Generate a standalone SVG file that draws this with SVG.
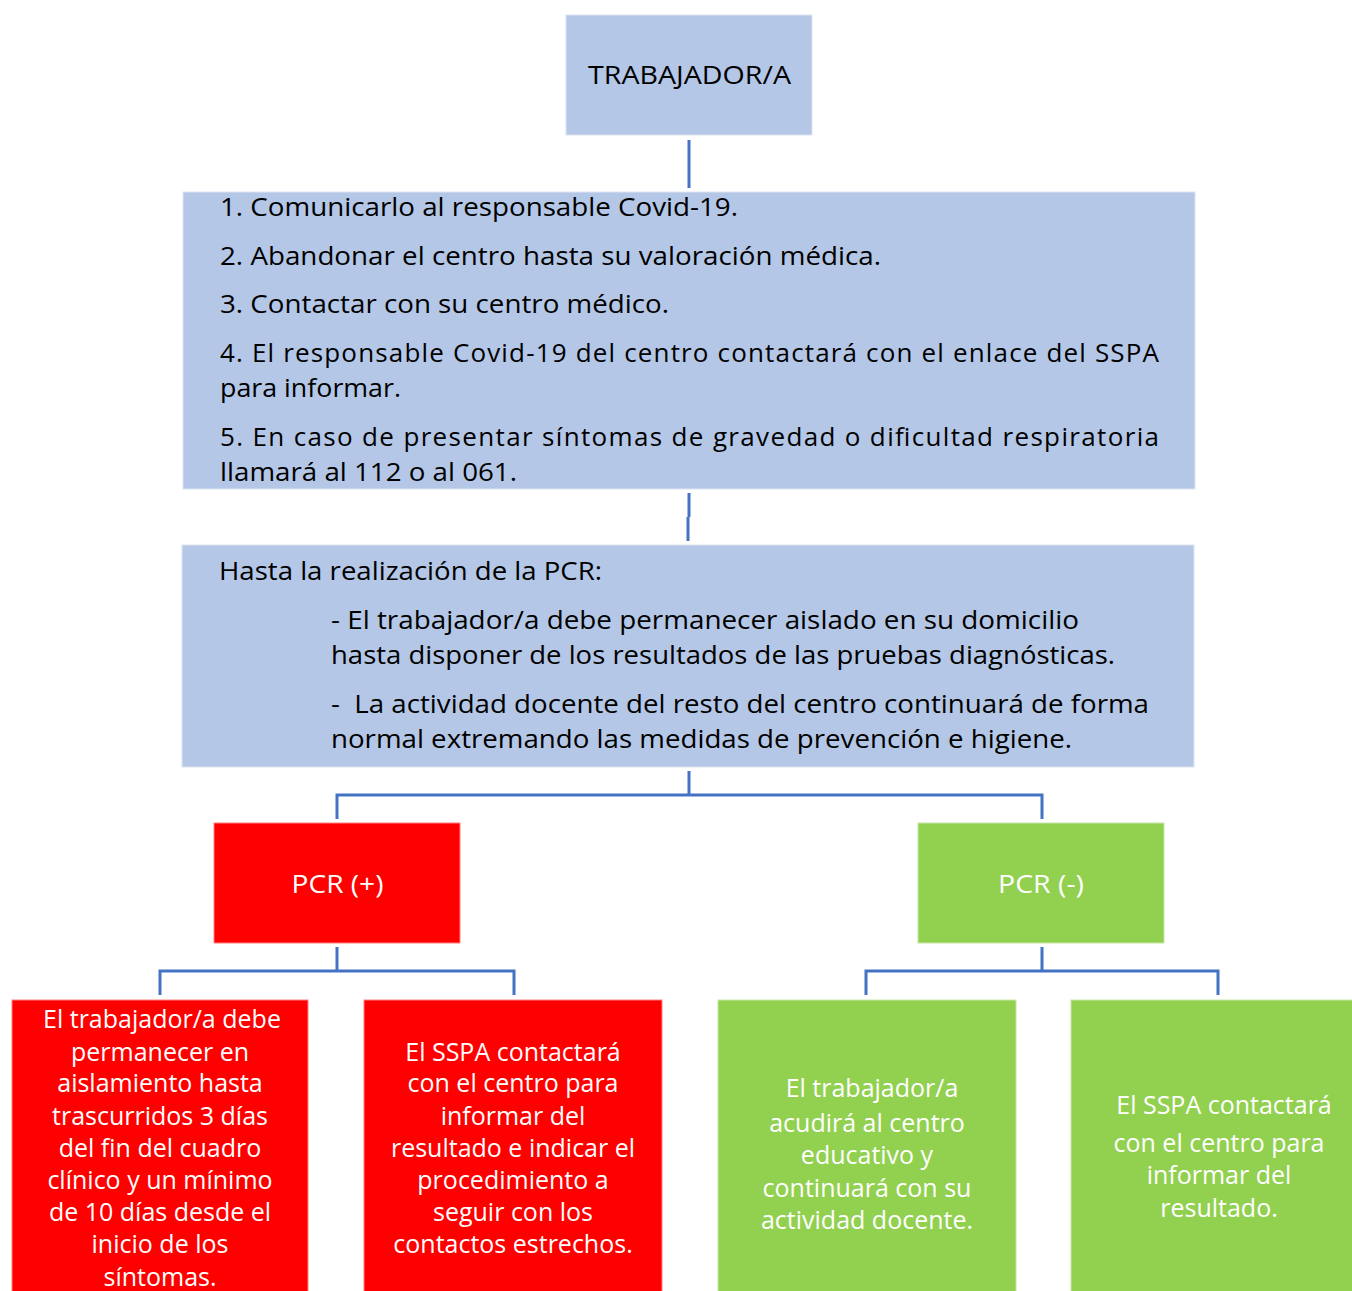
<svg xmlns="http://www.w3.org/2000/svg" width="1352" height="1291" viewBox="0 0 1352 1291">
<style>
.blue{fill:#B4C7E7;stroke:#DCE4F2;stroke-width:1}
.red{fill:#FF0000;stroke:#FF8080;stroke-width:1}
.green{fill:#92D050;stroke:#C5E6A6;stroke-width:1}
text{font-family:"Open Sans","Liberation Sans",sans-serif;font-size:26px}
.sm{font-size:25px}
.dk{fill:#000}
.wt{fill:#fff;text-anchor:middle}
.c{text-anchor:middle}
.conn{fill:none;stroke:#4472C4;stroke-width:3}
</style>
<rect width="1352" height="1291" fill="#fff"/>
<g id="connectors">
<path class="conn" d="M689 140V188"/>
<path class="conn" d="M689 493V517M688 517V541"/>
<path class="conn" d="M689 771V795M337 819V795H1042V819"/>
<path class="conn" d="M337 947V971M160 995V971H514V995"/>
<path class="conn" d="M1042 947V971M866 995V971H1218V995"/>
</g>
<g id="trabajador">
<rect class="blue" x="566" y="15" width="246" height="120"/>
<text class="dk c" x="689.5" y="84" textLength="203" lengthAdjust="spacingAndGlyphs">TRABAJADOR/A</text>
</g>
<g id="pasos">
<rect class="blue" x="183" y="192" width="1012" height="297"/>
<text class="dk" x="220" y="216" textLength="518" lengthAdjust="spacingAndGlyphs">1. Comunicarlo al responsable Covid-19.</text>
<text class="dk" x="220" y="265" textLength="661" lengthAdjust="spacingAndGlyphs">2. Abandonar el centro hasta su valoración médica.</text>
<text class="dk" x="220" y="313" textLength="449" lengthAdjust="spacingAndGlyphs">3. Contactar con su centro médico.</text>
<text class="dk" x="220" y="362" textLength="939" lengthAdjust="spacing">4. El responsable Covid-19 del centro contactará con el enlace del SSPA</text>
<text class="dk" x="220" y="397" textLength="181" lengthAdjust="spacingAndGlyphs">para informar.</text>
<text class="dk" x="220" y="446" textLength="939" lengthAdjust="spacing">5. En caso de presentar síntomas de gravedad o dificultad respiratoria</text>
<text class="dk" x="220" y="481" textLength="297" lengthAdjust="spacingAndGlyphs">llamará al 112 o al 061.</text>
</g>
<g id="hasta-pcr">
<rect class="blue" x="182" y="545" width="1012" height="222"/>
<text class="dk" x="219" y="580" textLength="383" lengthAdjust="spacingAndGlyphs">Hasta la realización de la PCR:</text>
<text class="dk" x="331" y="629" textLength="748" lengthAdjust="spacingAndGlyphs">- El trabajador/a debe permanecer aislado en su domicilio</text>
<text class="dk" x="331" y="664" textLength="784" lengthAdjust="spacingAndGlyphs">hasta disponer de los resultados de las pruebas diagnósticas.</text>
<text class="dk" x="331" y="713" textLength="818" lengthAdjust="spacingAndGlyphs" xml:space="preserve">-  La actividad docente del resto del centro continuará de forma</text>
<text class="dk" x="331" y="748" textLength="741" lengthAdjust="spacingAndGlyphs">normal extremando las medidas de prevención e higiene.</text>
</g>
<g id="pcr-pos">
<rect class="red" x="214" y="823" width="246" height="120"/>
<text class="wt" x="337.5" y="893" textLength="92" lengthAdjust="spacingAndGlyphs">PCR (+)</text>
</g>
<g id="pcr-neg">
<rect class="green" x="918" y="823" width="246" height="120"/>
<text class="wt" x="1041" y="893" textLength="86" lengthAdjust="spacingAndGlyphs">PCR (-)</text>
</g>
<g id="pos-aislamiento">
<rect class="red" x="12" y="1000" width="296" height="295"/>
<text class="wt sm" x="162" y="1028">El trabajador/a debe</text>
<text class="wt sm" x="160" y="1061">permanecer en</text>
<text class="wt sm" x="160" y="1092">aislamiento hasta</text>
<text class="wt sm" x="160" y="1125">trascurridos 3 días</text>
<text class="wt sm" x="160" y="1157">del fin del cuadro</text>
<text class="wt sm" x="160" y="1189">clínico y un mínimo</text>
<text class="wt sm" x="160" y="1221">de 10 días desde el</text>
<text class="wt sm" x="160" y="1253">inicio de los</text>
<text class="wt sm" x="160" y="1286">síntomas.</text>
</g>
<g id="pos-sspa">
<rect class="red" x="364" y="1000" width="298" height="295"/>
<text class="wt sm" x="513" y="1061">El SSPA contactará</text>
<text class="wt sm" x="513" y="1092">con el centro para</text>
<text class="wt sm" x="513" y="1125">informar del</text>
<text class="wt sm" x="513" y="1157">resultado e indicar el</text>
<text class="wt sm" x="513" y="1189">procedimiento a</text>
<text class="wt sm" x="513" y="1221">seguir con los</text>
<text class="wt sm" x="513" y="1253">contactos estrechos.</text>
</g>
<g id="neg-acudira">
<rect class="green" x="718" y="1000" width="298" height="295"/>
<text class="wt sm" x="872" y="1097">El trabajador/a</text>
<text class="wt sm" x="867" y="1132">acudirá al centro</text>
<text class="wt sm" x="867" y="1164">educativo y</text>
<text class="wt sm" x="867" y="1197">continuará con su</text>
<text class="wt sm" x="867" y="1229">actividad docente.</text>
</g>
<g id="neg-sspa">
<rect class="green" x="1071" y="1000" width="290" height="295"/>
<text class="wt sm" x="1224" y="1114">El SSPA contactará</text>
<text class="wt sm" x="1219" y="1152">con el centro para</text>
<text class="wt sm" x="1219" y="1184">informar del</text>
<text class="wt sm" x="1219" y="1217">resultado.</text>
</g>
</svg>
